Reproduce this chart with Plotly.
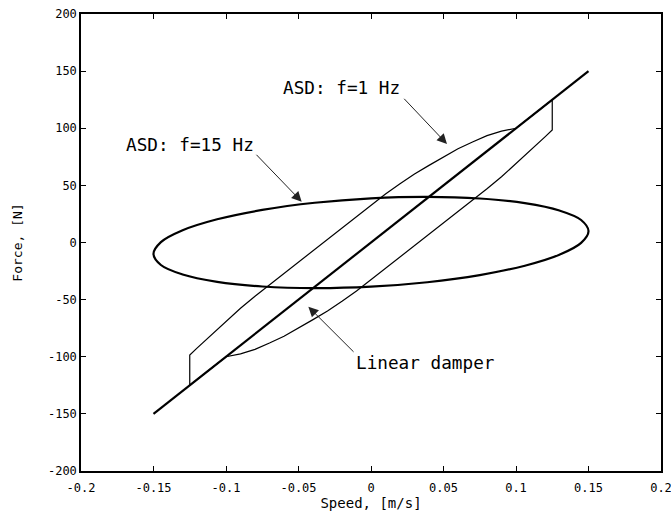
import plotly.graph_objects as go

# Linear damper
lin_x = [-0.15, 0.15]
lin_y = [-150, 150]

# ASD f=1 Hz : upper branch, lower branch is its point reflection
up_x = [-0.125, -0.12, -0.11, -0.1, -0.09, -0.08, -0.06, -0.04, -0.02, 0.0, 0.01, 0.02, 0.03, 0.04,
        0.05, 0.06, 0.07, 0.08, 0.09, 0.1]
up_y = [-98.5, -92.5, -81, -69.5, -57.5, -47, -27, -7, 13, 33, 42.5, 51.5, 60, 67.5,
        75, 82, 88, 93.5, 97.5, 100]
jump_x = 0.125
jump_lo = -125
jump_hi = 125

# ASD f=15 Hz ellipse points
e_x = [0.15, 0.1449, 0.1299, 0.1061, 0.075, 0.0388, 0.0, -0.0388, -0.075, -0.1061, -0.1299, -0.1449,
       -0.15, -0.1449, -0.1299, -0.1061, -0.075, -0.0388, 0.0, 0.0388, 0.075, 0.1061, 0.1299, 0.1449, 0.15]
e_y = [10.0, 19.7, 28.0, 34.4, 38.5, 40.0, 38.7, 34.8, 28.5, 20.3, 10.7, 0.3,
       -10.0, -19.7, -28.0, -34.4, -38.5, -40.0, -38.7, -34.8, -28.5, -20.3, -10.7, -0.3, 10.0]

x_ticks = [-0.2, -0.15, -0.1, -0.05, 0, 0.05, 0.1, 0.15, 0.2]
x_labels = ["-0.2", "-0.15", "-0.1", "-0.05", "0", "0.05", "0.1", "0.15", "0.2"]
y_ticks = [-200, -150, -100, -50, 0, 50, 100, 150, 200]
y_labels = ["-200", "-150", "-100", "-50", "0", "50", "100", "150", "200"]

# build f=1 Hz loop path
lo_x = [-v for v in up_x]
lo_y = [-v for v in up_y]
loop_x = [-jump_x, -jump_x] + up_x + [jump_x, jump_x] + lo_x + [-jump_x]
loop_y = [jump_lo, up_y[0]] + up_y + [jump_hi, lo_y[0]] + lo_y + [jump_lo]

FONT = "DejaVu Sans Mono"

fig = go.Figure()
fig.add_trace(go.Scatter(x=loop_x, y=loop_y, mode="lines",
                         line=dict(color="black", width=1.2),
                         hoverinfo="skip"))
fig.add_trace(go.Scatter(x=e_x, y=e_y, mode="lines",
                         line=dict(color="black", width=2.2, shape="spline"),
                         hoverinfo="skip"))
fig.add_trace(go.Scatter(x=lin_x, y=lin_y, mode="lines",
                         line=dict(color="black", width=2.2),
                         hoverinfo="skip"))

arrows = [
    dict(x=0.0524, y=86.2, ax=0.0219, ay=127.1),
    dict(x=-0.0478, y=35.7, ax=-0.08, ay=78.1),
    dict(x=-0.0432, y=-56.2, ax=-0.011, ay=-97.0),
]
for a in arrows:
    fig.add_annotation(x=a["x"], y=a["y"], ax=a["ax"], ay=a["ay"], xref="x", yref="y",
                       axref="x", ayref="y", text="", showarrow=True, arrowhead=2,
                       arrowsize=2, arrowwidth=1, arrowcolor="#222")

labels = [
    dict(x=-0.0202, y=134.8, text="ASD: f=1 Hz"),
    dict(x=-0.1248, y=85.3, text="ASD: f=15 Hz"),
    dict(x=0.0372, y=-105.5, text="Linear damper"),
]
for l in labels:
    fig.add_annotation(x=l["x"], y=l["y"], xref="x", yref="y", text=l["text"],
                       showarrow=False, font=dict(family=FONT, size=17.7, color="black"))

axis_common = dict(showline=True, linecolor="black", linewidth=1.5, mirror="ticks",
                   ticks="inside", ticklen=5, tickwidth=1, tickcolor="black",
                   showgrid=False, zeroline=False, automargin=False,
                   ticklabeloverflow="allow",
                   tickfont=dict(family=FONT, size=12, color="black"))

fig.update_xaxes(range=[-0.2, 0.2], tickvals=x_ticks, ticktext=x_labels, ticklabelstandoff=5,
                 title=dict(text="Speed, [m/s]", font=dict(family=FONT, size=14, color="black"), standoff=4),
                 **axis_common)
fig.update_yaxes(range=[-200, 200], tickvals=y_ticks, ticktext=y_labels,
                 title=dict(text="Force, [N]", font=dict(family=FONT, size=13, color="black"), standoff=22),
                 **axis_common)

fig.update_layout(width=671, height=513, margin=dict(l=81, r=10, t=14, b=42),
                  plot_bgcolor="white", paper_bgcolor="white", showlegend=False)

fig.write_html("out.html")
